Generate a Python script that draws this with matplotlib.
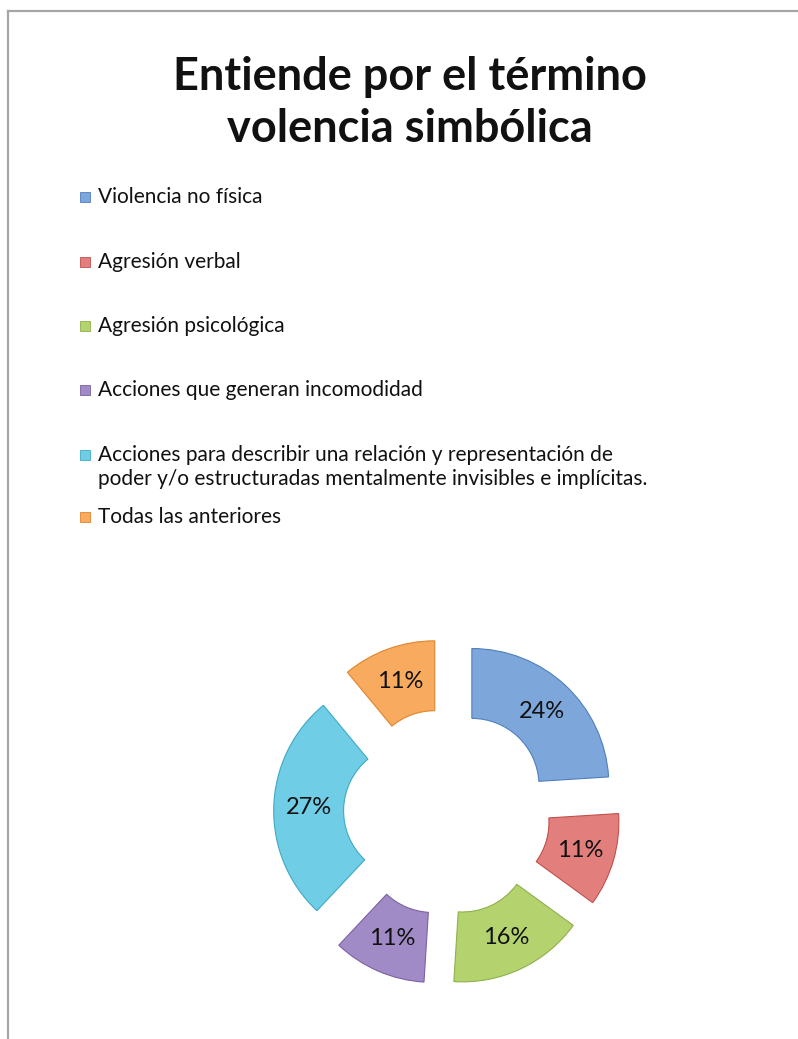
import matplotlib
matplotlib.use("Agg")
import matplotlib.pyplot as plt
from matplotlib.patches import Rectangle
from matplotlib.lines import Line2D

# datos
categorias = [
    "Violencia no física",
    "Agresión verbal",
    "Agresión psicológica",
    "Acciones que generan incomodidad",
    "Acciones para describir una relación y representación de\npoder y/o estructuradas mentalmente invisibles e implícitas.",
    "Todas las anteriores",
]
porcentajes = [24, 11, 16, 11, 27, 11]
colores = ["#7da6db", "#e27f7c", "#b4d36e", "#a18bc6", "#6fcde6", "#f8aa5e"]
bordes = ["#4f7fbf", "#c0504d", "#8fb04a", "#7a61a0", "#3ea9c6", "#e0852c"]

titulo = "Entiende por el término\nvolencia simbólica"

W, H = 798, 1039
fig = plt.figure(figsize=(W / 100, H / 100), dpi=100)
fig.patch.set_facecolor("white")

# marco gris (arriba e izquierda)
fig.add_artist(Line2D([8 / W, 8 / W], [0, 1 - 11 / H], color="#a6a6a6", lw=1.6))
fig.add_artist(Line2D([8 / W, 1], [1 - 11 / H, 1 - 11 / H], color="#a6a6a6", lw=1.6))

fig.text(410 / W, 1 - 103 / H, titulo, ha="center", va="center", fontsize=32.5,
         fontweight="bold", family="Lato", linespacing=1.3, color="#111111")

# leyenda a mano
ys = [197, 262, 326, 390, 467, 517]
for i, (cat, c) in enumerate(zip(categorias, colores)):
    y = ys[i] if i != 4 else 455
    fig.add_artist(Rectangle(((80) / W, 1 - (y + 5) / H), 10 / W, 10 / H,
                             facecolor=c, edgecolor=bordes[i], lw=0.6,
                             transform=fig.transFigure))
    fig.text(98 / W, 1 - ys[i] / H, cat, ha="left", va="center", fontsize=15,
             family="Lato", linespacing=1.2, color="#111111")

# donut
cx, cy, R = 447, 812, 137
half = 200
ax = fig.add_axes([(cx - half) / W, (H - cy - half) / H, 2 * half / W, 2 * half / H])
wedges, texts, autotexts = ax.pie(
    porcentajes, colors=colores, startangle=90, counterclock=False,
    explode=[0.265] * len(porcentajes), radius=1,
    wedgeprops=dict(width=0.51, edgecolor="white", linewidth=0),
    autopct="%1.0f%%", pctdistance=0.745,
    textprops=dict(fontsize=17, family="Lato", color="#111111"))
for w, b in zip(wedges, bordes):
    w.set_edgecolor(b)
    w.set_linewidth(0.8)
lim = half / R
ax.set_xlim(-lim, lim)
ax.set_ylim(-lim, lim)
ax.set_aspect("equal")
ax.axis("off")

fig.savefig("out.png", dpi=100)
